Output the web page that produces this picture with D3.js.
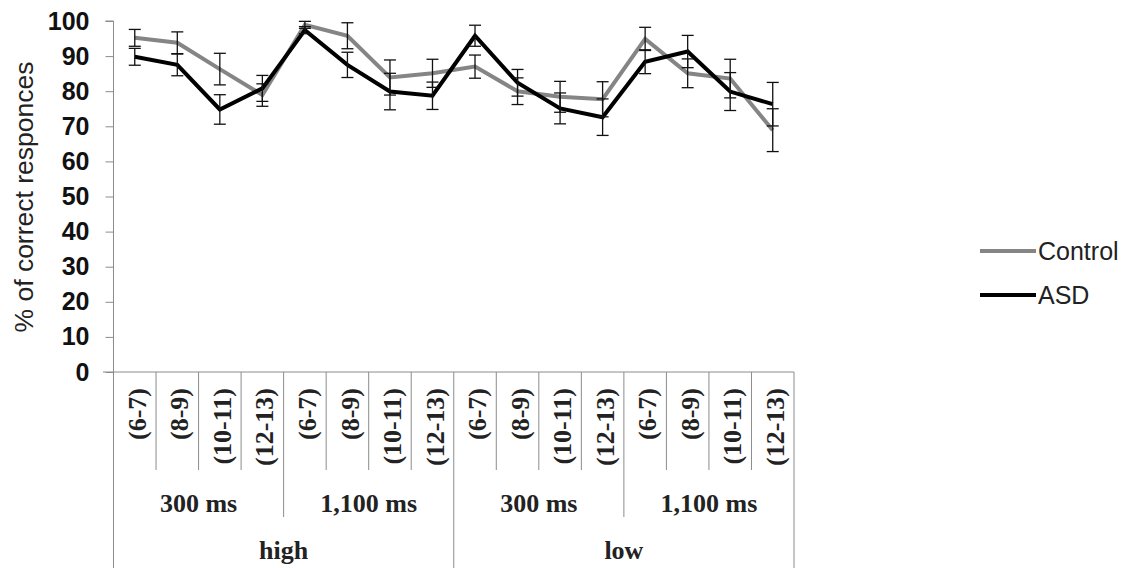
<!DOCTYPE html>
<meta charset="utf-8">
<head>
<script src="https://d3js.org/d3.v7.min.js"></script>
<style>
  body { margin: 0; background: #fff; }
</style>
</head>
<body>
<svg id="chart" width="1142" height="568"></svg>

<script>
// categories (three-level axis)
var ages = ["(6-7)", "(8-9)", "(10-11)", "(12-13)"];
var durations = ["300 ms", "1,100 ms"];
var levels = ["high", "low"];

// series values (% of correct responses) and error half-widths
var control    = [95.2, 93.8, 86.3, 78.9, 98.9, 95.8, 83.9, 85.1, 87.0, 80.0, 78.4, 77.7, 94.9, 85.1, 83.6, 68.9];
var controlErr = [2.4, 3.1, 4.5, 3.2, 1.0, 3.7, 5.0, 4.0, 3.3, 3.8, 4.4, 5.0, 3.3, 4.1, 5.5, 6.1];
var asd        = [89.8, 87.5, 74.8, 80.8, 97.4, 87.5, 79.9, 78.7, 95.8, 82.4, 75.1, 72.6, 88.4, 91.3, 79.9, 76.3];
var asdErr     = [2.4, 3.1, 4.2, 3.7, 1.0, 3.6, 5.2, 3.9, 3.0, 3.8, 4.4, 5.2, 3.4, 4.6, 5.4, 6.2];

var yTicks = [0, 10, 20, 30, 40, 50, 60, 70, 80, 90, 100];

// build the flat category list
var cats = [];
levels.forEach(function (l) {
  durations.forEach(function (d) {
    ages.forEach(function (a) { cats.push({ level: l, dur: d, age: a }); });
  });
});

var series = [
  { name: "Control", values: control, err: controlErr, color: "#858585" },
  { name: "ASD", values: asd, err: asdErr, color: "#000000" }
];

var svg = d3.select("#chart");
var axisColor = "#8c8c8c";
var plotL = 113.5, plotR = 794, plotT = 21, plotB = 372;

var x = d3.scaleBand().domain(d3.range(cats.length)).range([plotL, plotR]);
var y = d3.scaleLinear().domain([0, 100]).range([plotB, plotT]);

// y axis
var yAxis = svg.append("g")
  .attr("transform", "translate(" + plotL + ",0)")
  .call(d3.axisLeft(y).tickValues(yTicks).tickSize(8).tickPadding(16));
yAxis.select(".domain").attr("stroke", axisColor).attr("d", "M-8," + plotT + "H0V" + plotB);
yAxis.selectAll(".tick line").attr("stroke", axisColor);
yAxis.selectAll(".tick text")
  .attr("fill", "#111")
  .style("font-family", "Arial, 'Liberation Sans', sans-serif")
  .style("font-weight", "bold")
  .style("font-size", "25px");

// y title
svg.append("text")
  .attr("transform", "translate(33,197) rotate(-90)")
  .attr("text-anchor", "middle")
  .attr("textLength", 271)
  .attr("lengthAdjust", "spacingAndGlyphs")
  .style("font-family", "Arial, 'Liberation Sans', sans-serif")
  .style("font-size", "25px")
  .attr("fill", "#222")
  .text("% of correct responces");

// x axis baseline
svg.append("line")
  .attr("x1", 103).attr("x2", plotR)
  .attr("y1", plotB).attr("y2", plotB)
  .attr("stroke", axisColor);

// divider lines of the multi-level axis
var dividers = svg.append("g").attr("stroke", axisColor);
for (var k = 0; k <= cats.length; k++) {
  var len = 470;
  if (k % 4 === 0) len = 517;
  if (k % 8 === 0) len = 568;
  dividers.append("line")
    .attr("x1", plotL + k * x.step()).attr("x2", plotL + k * x.step())
    .attr("y1", plotB).attr("y2", len);
}

var serif = "'Liberation Serif', 'Times New Roman', serif";

// age labels
svg.append("g").selectAll("text")
  .data(cats)
  .join("text")
    .attr("transform", function (d, i) {
      return "translate(" + (x(i) + x.bandwidth() / 2 + 2) + ",388) rotate(-90)";
    })
    .attr("text-anchor", "end")
    .attr("dy", "0.35em")
    .style("font-family", serif)
    .style("font-weight", "bold")
    .style("font-size", "26px")
    .attr("fill", "#222")
    .text(function (d) { return d.age; });

// duration labels
var durGroups = [];
levels.forEach(function (l, li) {
  durations.forEach(function (d, di) {
    durGroups.push({ text: d, start: (li * 2 + di) * 4 });
  });
});
svg.append("g").selectAll("text")
  .data(durGroups)
  .join("text")
    .attr("x", function (d) { return plotL + (d.start + 2) * x.step(); })
    .attr("y", 512)
    .attr("text-anchor", "middle")
    .style("font-family", serif)
    .style("font-weight", "bold")
    .style("font-size", "26px")
    .attr("fill", "#222")
    .text(function (d) { return d.text; });

// level labels
svg.append("g").selectAll("text")
  .data(levels)
  .join("text")
    .attr("x", function (d, i) { return plotL + (i * 8 + 4) * x.step(); })
    .attr("y", 559)
    .attr("text-anchor", "middle")
    .style("font-family", serif)
    .style("font-weight", "bold")
    .style("font-size", "26px")
    .attr("fill", "#222")
    .text(function (d) { return d; });

// lines
var line = d3.line()
  .x(function (d, i) { return x(i) + x.bandwidth() / 2; })
  .y(function (d) { return y(d); });

series.forEach(function (s) {
  svg.append("path")
    .datum(s.values)
    .attr("fill", "none")
    .attr("stroke", s.color)
    .attr("stroke-width", 4)
    .attr("stroke-linejoin", "miter")
    .attr("d", line);
});

// error bars
series.forEach(function (s) {
  var g = svg.append("g").attr("stroke", "#111").attr("stroke-width", 1.3);
  s.values.forEach(function (v, i) {
    var cx = x(i) + x.bandwidth() / 2;
    var y1 = y(v + s.err[i]), y2 = y(v - s.err[i]);
    g.append("line").attr("x1", cx).attr("x2", cx).attr("y1", y1).attr("y2", y2);
    g.append("line").attr("x1", cx - 6).attr("x2", cx + 6).attr("y1", y1).attr("y2", y1);
    g.append("line").attr("x1", cx - 6).attr("x2", cx + 6).attr("y1", y2).attr("y2", y2);
  });
});

// legend
var legend = svg.append("g").selectAll("g")
  .data(series)
  .join("g")
    .attr("transform", function (d, i) { return "translate(980," + (251 + i * 44) + ")"; });
legend.append("line")
  .attr("x1", 0).attr("x2", 56)
  .attr("stroke", function (d) { return d.color; })
  .attr("stroke-width", 4);
legend.append("text")
  .attr("x", 58)
  .attr("dy", "0.36em")
  .style("font-family", "Arial, 'Liberation Sans', sans-serif")
  .style("font-size", "25px")
  .attr("fill", "#222")
  .text(function (d) { return d.name; });
</script>
</body>
</html>
